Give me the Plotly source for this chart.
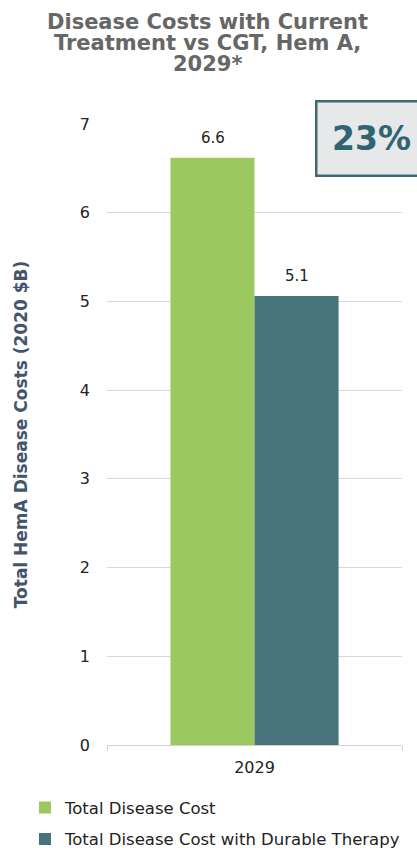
import plotly.graph_objects as go

categories = ["2029"]
series_names = ["Total Disease Cost", "Total Disease Cost with Durable Therapy"]
total_cost = [6.62]
durable_cost = [5.06]
value_labels = ["6.6", "5.1"]
y_ticks = [0, 1, 2, 3, 4, 5, 6, 7]
reduction_label = "23%"
title_lines = ["Disease Costs with Current", "Treatment vs CGT, Hem A,", "2029*"]

colors = ["#9bc95f", "#46747a"]
font_family = "DejaVu Sans, Verdana, sans-serif"

fig = go.Figure()
series_values = [total_cost, durable_cost]
for i, (name, vals, col) in enumerate(zip(series_names, series_values, colors)):
    fig.add_trace(go.Bar(
        x=categories, y=vals, name=name, marker_color=col, legendgroup=name,
        marker_line_width=0,
    ))
    for j, v in enumerate(vals):
        fig.add_annotation(
            x=j, y=v, xref="x", yref="y", text=value_labels[i], showarrow=False,
            xshift=(-42 if i == 0 else 42), yshift=9, yanchor="bottom",
            font=dict(size=15, color="#222222", family=font_family),
        )

fig.update_layout(
    width=417, height=848,
    margin=dict(l=107, r=15, t=124, b=103, autoexpand=False),
    paper_bgcolor="white", plot_bgcolor="white",
    barmode="group", bargap=0.43, bargroupgap=0,
    font=dict(family=font_family, color="#222222", size=15),
    yaxis=dict(
        range=[0, 7], autorange=False, tickvals=y_ticks, showgrid=True, gridcolor="#d9d9d9", gridwidth=1,
        zeroline=False, showline=False, ticks="", ticklabelstandoff=16,
        tickfont=dict(size=16, color="#222222"),
        title=dict(text="<b>Total HemA Disease Costs (2020 $B)</b>",
                   font=dict(size=17, color="#44546a"), standoff=47),
    ),
    xaxis=dict(
        type="category", range=[-0.5, 0.5], autorange=False,
        showline=True, linecolor="#d0d0d0", linewidth=1,
        ticks="outside", tickson="boundaries", ticklen=5, tickcolor="#d0d0d0",
        ticklabelstandoff=8,
        tickfont=dict(size=16, color="#222222"),
    ),
    legend=dict(
        orientation="v", x=-0.278, xanchor="left", y=-0.073, yanchor="top",
        font=dict(size=16.5, color="#222222"), tracegroupgap=7,
        itemwidth=30,
    ),
    showlegend=True,
)

title_y = [1.164, 1.130, 1.0966]
for line, ty in zip(title_lines, title_y):
    fig.add_annotation(
        x=0.342, y=ty, xref="paper", yref="paper", xanchor="center", yanchor="middle",
        text="<b>" + line + "</b>", showarrow=False,
        font=dict(size=21, color="#666666", family=font_family),
    )

fig.add_annotation(
    x=0.705, y=1.038, xref="paper", yref="paper", xanchor="left", yanchor="top",
    text="<b>" + reduction_label + "</b>", showarrow=False,
    font=dict(size=33, color="#2f6470", family=font_family),
    bgcolor="#e6e8ea", bordercolor="#3d6b73", borderwidth=2.5,
    width=106, height=70,
)

fig.write_html("out.html", config={"displayModeBar": False},
               post_script="document.body.style.margin='0';document.body.style.overflow='hidden';")
